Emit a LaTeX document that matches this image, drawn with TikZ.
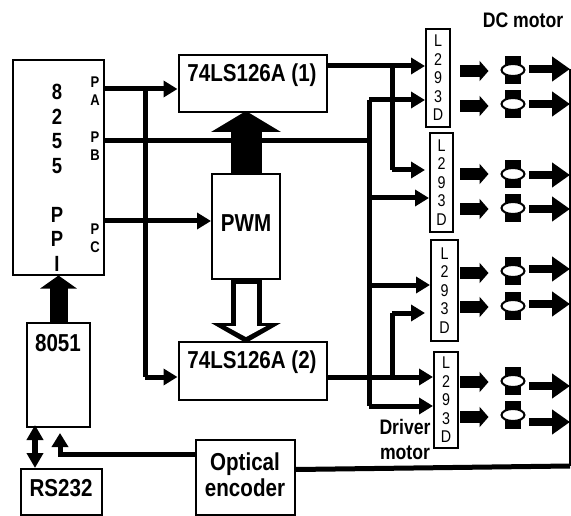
\documentclass[tikz,border=0pt]{standalone}
\usepackage{fontspec}
\setmainfont[FakeStretch=0.84]{Liberation Sans}
\usetikzlibrary{arrows.meta,shapes.geometric}

\tikzset{
  box/.style={draw, line width=2pt, inner sep=0pt},
  chipbox/.style={box, align=center, font=\fontsize{17}{18.5}\selectfont},
  biglabel/.style={font=\bfseries\fontsize{24.5}{26}\selectfont, align=center},
  midlabel/.style={font=\bfseries\fontsize{21}{25}\selectfont, align=center},
  pinlabel/.style={font=\bfseries\fontsize{15.5}{18}\selectfont, align=center},
  busarrow/.style={line width=5pt, -{Triangle[length=14pt,width=16pt]}},
  fatarrow/.style={line width=12pt, -{Triangle[length=9pt,width=20pt]}},
  outarrow/.style={line width=8pt, -{Triangle[length=18pt,width=24pt]}},
  rotor/.style={draw, fill=white, ellipse, line width=2pt, inner sep=0pt, minimum width=23pt, minimum height=12pt},
  stator/.style={fill=black, inner sep=0pt, minimum width=16pt, minimum height=28pt}
}

\begin{document}
\begin{tikzpicture}[x=1pt,y=-1pt]
        \useasboundingbox (0,0) rectangle (571,516);

        \node [box, minimum width=91pt, minimum height=215pt] (ppi) at (58.5,168) {};
        \node [box, minimum width=148pt, minimum height=57pt] (ls1) at (252.5,83.5) {};
        \node [box, minimum width=148pt, minimum height=58pt] (ls2) at (252.5,371) {};
        \node [box, minimum width=68pt, minimum height=105pt] (pwm) at (246,226.5) {};
        \node [box, minimum width=63pt, minimum height=104pt] (mcu) at (58.5,375) {};
        \node [box, minimum width=81pt, minimum height=46pt] (rs) at (61.5,492) {};
        \node [box, minimum width=99pt, minimum height=75pt] (enc) at (245.5,477.5) {};

        \node [chipbox, minimum width=24pt, minimum height=98pt] (drv1) at (438,78) {L\\2\\9\\3\\D};
        \node [chipbox, minimum width=23pt, minimum height=99pt] (drv2) at (441.5,182.5) {L\\2\\9\\3\\D};
        \node [chipbox, minimum width=27pt, minimum height=101pt] (drv3) at (444.5,290.5) {L\\2\\9\\3\\D};
        \node [chipbox, minimum width=24pt, minimum height=96pt] (drv4) at (446,400) {L\\2\\9\\3\\D};

        \node [biglabel] (ls1text) at (252,75) {74LS126A (1)};
        \node [biglabel] (ls2text) at (252,362) {74LS126A (2)};
        \node [biglabel] (pwmtext) at (246,223) {PWM};
        \node [biglabel] (mcutext) at (58,343) {8051};
        \node [biglabel] (rstext) at (61,488) {RS232};
        \node [biglabel] (enctext) at (245,475) {Optical\\encoder};
        \node [midlabel] (dctext) at (523,20) {DC motor};
        \node [midlabel] (drvtext) at (405,439.5) {Driver\\motor};
        \node [font=\bfseries\fontsize{22}{24.5}\selectfont, align=center] (ppitext) at (57,178) {8\\2\\5\\5\\[24.5pt]P\\P\\I};
        \node [pinlabel] (patext) at (95,91) {P\\A};
        \node [pinlabel] (pbtext) at (95,146) {P\\B};
        \node [pinlabel] (pctext) at (95,238) {P\\C};

        \coordinate (jpa) at (145,89);
        \coordinate (jpb) at (369,141);
        \coordinate (jpc) at (145,221);
        \coordinate (jlow) at (145,377);
        \coordinate (jbus) at (369,100);
        \coordinate (jbusend) at (369,406);
        \coordinate (jtop) at (392,66);
        \coordinate (jtopb) at (392,170);
        \coordinate (jbot) at (392,377);
        \coordinate (jbotb) at (392,313);
        \coordinate (jenc) at (60,454);
        \coordinate (jdbl) at (35,448);

        \begin{scope}[line width=5pt]
        \draw (ppi.east |- jpb) -- (jpb);
        \draw (jpa) -- (jlow);
        \draw (jbus) -- (jbusend);
        \draw (jtop) -- (jtopb);
        \draw (jbotb) -- (jbot);
        \end{scope}

        \begin{scope}[busarrow]
        \draw (ppi.east |- jpa) -- (ls1.west |- jpa);
        \draw (ppi.east |- jpc) -- (pwm.west |- jpc);
        \draw (jpa |- jlow) -- (ls2.west |- jlow);
        \draw (ls1.east |- jtop) -- (drv1.west |- jtop);
        \draw (jbus) -- (drv1.west |- jbus);
        \draw (jtopb) -- (drv1.west |- jtopb);
        \draw (jbus |- 0,198) -- (drv2.west |- 0,198);
        \draw (jbus |- 0,285) -- (drv3.west |- 0,285);
        \draw (jbotb) -- (drv1.west |- jbotb);
        \draw (ls2.east |- jbot) -- (drv4.west |- jbot);
        \draw (jbusend) -- (drv4.west |- jbusend);
        \end{scope}

        % big arrows between the blocks
        \draw [line width=18pt, -{Triangle[length=13pt,width=36pt]}, shorten >=-1pt] (mcu.north) -- (mcu.north |- ppi.south);
        \draw [line width=31pt, -{Triangle[length=21pt,width=69pt]}, shorten >=-2pt] (pwm.north) -- (pwm.north |- ls1.south);
        \draw [line width=31pt, -{Triangle[length=20pt,width=69pt]}, shorten >=-2pt] (pwm.south) -- (pwm.south |- ls2.north);
        \draw [white, line width=21pt, -{Triangle[length=11pt,width=40pt]}, shorten <=4pt, shorten >=4pt] (pwm.south) -- (pwm.south |- ls2.north);

        \draw [line width=6pt, {Triangle[length=15pt,width=16pt]}-{Triangle[length=15pt,width=16pt]}, shorten >=-3pt] (jdbl |- rs.north) -- (jdbl |- mcu.south);
        \draw [busarrow, shorten >=5pt] (enc.west |- jenc) -- (jenc) -- (jenc |- mcu.south);

        \foreach \i/\a/\m/\o in {1/71/70/69, 2/106/104/104, 3/174/174/175, 4/209/208/209, 5/273/271/269, 6/307/306/304, 7/382/381/386, 8/417/415/422} {
          \node [stator] (st\i) at (513,\m) {};
          \node [rotor] (m\i) at (513,\m) {};
          \coordinate (s\i) at (460,\a);
          \coordinate (u\i) at (529,\o);
          \coordinate (v\i) at (570,\o);
          \draw [fatarrow, shorten >=12pt] (s\i) -- (s\i -| m\i.west);
          \draw [outarrow] (u\i) -- (v\i);
        }

        \coordinate (jend) at (570,466);
        \draw [line width=5pt] (enc.east |- 0,469.5) -- (jend);
        \draw [line width=2.5pt] (jend) -- (v1);

\end{tikzpicture}
\end{document}
